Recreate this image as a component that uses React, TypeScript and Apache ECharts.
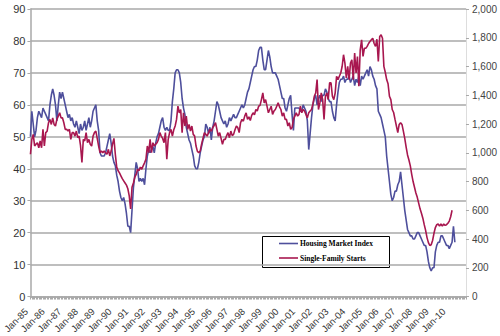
import React, { useEffect, useRef } from "react";
import * as echarts from "echarts";

const monthNames = ["Jan", "Feb", "Mar", "Apr", "May", "Jun", "Jul", "Aug", "Sep", "Oct", "Nov", "Dec"];
const firstYear = 1985;
const categoryCount = 314; // Jan-85 .. Feb-11 (axis extent)
const lastLabelIndex = 300; // Jan-10

// NAHB/Wells Fargo Housing Market Index, monthly from Jan-85 (left axis)
const housingMarketIndex = [
  50, 58, 54, 50, 52, 56, 58, 57, 56, 59, 58, 57, // 1985
  56, 55, 60, 63, 65, 63, 60, 55, 60, 64, 62, 64, // 1986
  62, 60, 58, 56, 57, 55, 56, 54, 53, 55, 53, 51, // 1987
  54, 52, 53, 55, 52, 54, 56, 53, 55, 58, 59, 60, // 1988
  55, 52, 45, 44, 44, 44, 45, 47, 49, 51, 48, 44, // 1989
  42, 41, 38, 36, 33, 31, 30, 31, 29, 26, 22, 22, // 1990
  20, 27, 34, 38, 42, 40, 36, 37, 36, 37, 35, 40, // 1991
  44, 46, 45, 46, 47, 45, 48, 50, 51, 53, 55, 56, // 1992
  53, 52, 53, 52, 52, 55, 61, 65, 70, 71, 71, 70, // 1993
  67, 62, 59, 57, 53, 51, 49, 48, 46, 44, 41, 40, // 1994
  40, 42, 45, 47, 49, 50, 54, 53, 51, 53, 49, 53, // 1995
  55, 58, 61, 60, 58, 56, 55, 54, 55, 53, 54, 56, // 1996
  55, 56, 57, 56, 56, 57, 58, 59, 60, 59, 60, 62, // 1997
  64, 65, 67, 69, 71, 72, 72, 74, 77, 78, 78, 74, // 1998
  71, 71, 74, 77, 75, 72, 70, 70, 70, 69, 68, 66, // 1999
  64, 62, 62, 59, 58, 60, 62, 63, 57, 52, 59, 59, // 2000
  59, 59, 58, 58, 60, 59, 58, 55, 46, 51, 56, 60, // 2001
  62, 63, 60, 62, 63, 61, 63, 63, 65, 64, 62, 61, // 2002
  61, 58, 56, 55, 60, 64, 67, 68, 68, 69, 67, 68, // 2003
  68, 69, 67, 68, 69, 66, 68, 67, 69, 66, 69, 68, // 2004
  69, 70, 71, 69, 72, 71, 69, 68, 66, 65, 58, 57, // 2005
  56, 54, 52, 50, 44, 40, 36, 32, 30, 31, 33, 33, // 2006
  35, 36, 39, 35, 31, 27, 24, 21, 20, 19, 19, 18, // 2007
  18, 19, 20, 20, 19, 18, 17, 16, 16, 14, 11, 9, // 2008
  8, 9, 9, 14, 16, 17, 17, 19, 19, 18, 17, 16, // 2009
  16, 15, 16, 17, 22, 17, // 2010
];

// Single-family housing starts, thousands, monthly from Jan-85 (right axis)
const singleFamilyStarts = [
  990, 1093, 1128, 1047, 1060, 1070, 1035, 1082, 1035, 1163, 1047, 1140, // 1985
  1150, 1209, 1232, 1197, 1243, 1197, 1186, 1232, 1255, 1278, 1243, 1243, // 1986
  1209, 1163, 1163, 1151, 1163, 1093, 1140, 1140, 1116, 1151, 1105, 1116, // 1987
  1050, 932, 1093, 1082, 1140, 1070, 1093, 1060, 1047, 1116, 1140, 1151, // 1988
  1100, 1047, 1001, 1012, 1001, 1012, 1000, 990, 1024, 978, 1012, 1060, // 1989
  1100, 990, 900, 875, 860, 840, 820, 805, 790, 775, 750, 700, // 1990
  610, 760, 790, 830, 850, 886, 875, 900, 886, 909, 930, 955, // 1991
  1047, 1001, 1093, 1001, 1070, 1047, 1060, 1070, 1093, 1140, 1116, 1100, // 1992
  1070, 1140, 955, 1093, 1140, 1163, 1116, 1160, 1186, 1232, 1324, 1278, // 1993
  1300, 1140, 1278, 1186, 1255, 1163, 1197, 1151, 1186, 1128, 1116, 1047, // 1994
  1010, 1001, 1012, 1060, 1100, 1140, 1128, 1116, 1140, 1163, 1150, 1175, // 1995
  1190, 1209, 1163, 1116, 1140, 1100, 1059, 1093, 1093, 1120, 1140, 1105, // 1996
  1151, 1120, 1128, 1160, 1186, 1175, 1140, 1209, 1232, 1220, 1255, 1278, // 1997
  1232, 1250, 1225, 1260, 1278, 1265, 1301, 1290, 1324, 1330, 1370, 1416, // 1998
  1347, 1370, 1324, 1278, 1301, 1324, 1267, 1290, 1301, 1324, 1347, 1320, // 1999
  1301, 1255, 1278, 1232, 1232, 1186, 1209, 1163, 1175, 1232, 1255, 1278, // 2000
  1255, 1267, 1324, 1278, 1301, 1290, 1267, 1243, 1278, 1290, 1301, 1340, // 2001
  1393, 1416, 1509, 1301, 1347, 1416, 1370, 1232, 1393, 1416, 1370, 1486, // 2002
  1486, 1393, 1370, 1416, 1532, 1509, 1532, 1555, 1600, 1682, 1624, 1520, // 2003
  1601, 1509, 1624, 1647, 1509, 1693, 1555, 1670, 1463, 1716, 1786, 1670, // 2004
  1727, 1727, 1740, 1760, 1774, 1786, 1797, 1760, 1740, 1790, 1635, 1809, // 2005
  1820, 1797, 1601, 1560, 1509, 1480, 1393, 1370, 1301, 1280, 1232, 1186, // 2006
  1140, 1197, 1209, 1197, 1151, 1100, 1040, 985, 950, 909, 850, 800, // 2007
  760, 720, 690, 650, 610, 580, 545, 500, 460, 410, 375, 355, // 2008
  360, 390, 440, 480, 500, 505, 490, 505, 490, 505, 495, 500, // 2009
  510, 525, 555, 600, // 2010
];

const seriesNames = ["Housing Market Index", "Single-Family Starts"];
const seriesColors = ["#4E4F9C", "#A8174F"];

const categories: string[] = [];
for (let i = 0; i < categoryCount; i++) {
  const y = (firstYear + Math.floor(i / 12)) % 100;
  categories.push(`${monthNames[i % 12]}-${String(y).padStart(2, "0")}`);
}

const axisFont = "'Liberation Sans', Arial, sans-serif";
const legendFont = "'Liberation Serif', 'Times New Roman', serif";

export default function App() {
  const ref = useRef<HTMLDivElement>(null);

  useEffect(() => {
    if (!ref.current) return;
    const chart = echarts.init(ref.current, null, { renderer: "svg" });
    const gridColor = "#A9A9A9";
    chart.setOption({
      animation: false,
      backgroundColor: "#ffffff",
      grid: { left: 27, right: 33, top: 9, bottom: 38 },
      xAxis: {
        type: "category",
        data: categories,
        boundaryGap: false,
        axisLine: { show: true, lineStyle: { color: gridColor, width: 1.5 } },
        axisTick: { show: true, interval: 0, length: 3, lineStyle: { color: gridColor, width: 1 } },
        axisLabel: {
          interval: (index: number) => index % 12 === 0 && index <= lastLabelIndex,
          rotate: 45,
          fontSize: 9.5,
          color: "#333333",
          fontFamily: axisFont,
          margin: 9,
          padding: [0, 6, 0, 0],
        },
        splitLine: { show: false },
      },
      yAxis: [
        {
          type: "value",
          min: 0,
          max: 90,
          interval: 10,
          position: "left",
          axisLine: { show: true, lineStyle: { color: gridColor, width: 1.5 } },
          axisTick: { show: true, length: 3, lineStyle: { color: gridColor } },
          axisLabel: { fontSize: 11, color: "#333333", fontFamily: axisFont, margin: 5 },
          splitLine: { show: true, lineStyle: { color: gridColor, width: 1.5 } },
        },
        {
          type: "value",
          min: 0,
          max: 2000,
          interval: 200,
          position: "right",
          axisLine: { show: true, lineStyle: { color: "#DDDDDD", width: 1 } },
          axisTick: { show: true, length: 3, lineStyle: { color: gridColor } },
          axisLabel: {
            fontSize: 10,
            color: "#444444",
            fontFamily: axisFont,
            margin: 6,
            formatter: (v: number) => v.toLocaleString("en-US"),
          },
          splitLine: { show: false },
        },
      ],
      series: [
        {
          name: seriesNames[0],
          type: "line",
          yAxisIndex: 0,
          data: housingMarketIndex,
          showSymbol: false,
          lineStyle: { color: seriesColors[0], width: 1.6 },
          itemStyle: { color: seriesColors[0] },
          z: 2,
        },
        {
          name: seriesNames[1],
          type: "line",
          yAxisIndex: 1,
          data: singleFamilyStarts,
          showSymbol: false,
          lineStyle: { color: seriesColors[1], width: 1.6 },
          itemStyle: { color: seriesColors[1] },
          z: 3,
        },
      ],
      graphic: [
        {
          type: "group",
          z: 100,
          children: [
            {
              type: "rect",
              shape: { x: 262.5, y: 236.5, width: 127, height: 31 },
              style: { fill: "#ffffff", stroke: "#000000", lineWidth: 1 },
            },
            {
              type: "line",
              shape: { x1: 279, y1: 243.5, x2: 298, y2: 243.5 },
              style: { stroke: seriesColors[0], lineWidth: 1.6 },
            },
            {
              type: "text",
              x: 300,
              y: 243.5,
              style: {
                text: seriesNames[0],
                fontFamily: legendFont,
                fontWeight: "bold",
                fontSize: 7.5,
                fill: "#000000",
                verticalAlign: "middle",
                align: "left",
              },
            },
            {
              type: "line",
              shape: { x1: 279, y1: 258, x2: 298, y2: 258 },
              style: { stroke: seriesColors[1], lineWidth: 1.6 },
            },
            {
              type: "text",
              x: 300,
              y: 258,
              style: {
                text: seriesNames[1],
                fontFamily: legendFont,
                fontWeight: "bold",
                fontSize: 7.5,
                fill: "#000000",
                verticalAlign: "middle",
                align: "left",
              },
            },
          ],
        },
      ],
    });
    return () => chart.dispose();
  }, []);

  return (
    <div
      ref={ref}
      style={{ position: "absolute", left: 0, top: 0, width: 500, height: 336, background: "#ffffff" }}
    />
  );
}
